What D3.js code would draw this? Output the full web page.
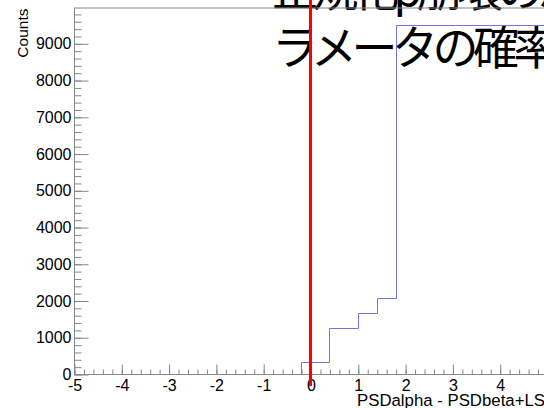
<!DOCTYPE html>
<html>
<head>
<meta charset="utf-8">
<script src="https://cdn.jsdelivr.net/npm/d3@7"></script>
<style>
  html, body { margin: 0; padding: 0; background: #fff; overflow: hidden; }
  svg { display: block; }
  .tick text { font-family: "Liberation Sans", Arial, sans-serif; }
</style>
</head>
<body>
<svg id="chart" width="544" height="408"></svg>
<script>
// Histogram: variable-width bin edges and the counts in each bin
const binEdges = [-0.2, 0.4, 1.0, 1.4, 1.8, 6.0];
const binCounts = [330, 1240, 1670, 2060, 9500];

// Axis ranges and tick values
const xDomain = [-5, 7.5];
const yDomain = [0, 9975];
const xMajorTicks = d3.range(-5, 7.01, 1);
const xMinorTicks = d3.range(-5, 7.51, 0.2).map(v => +v.toFixed(1));
const yMajorTicks = d3.range(0, 9001, 1000);
const yMinorTicks = d3.range(0, 9975, 200);

// Cut position drawn as a vertical marker
const cutValue = 0;

const titleLines = ["正規化p崩壊のパ", "ラメータの確率分布"];
const xTitle = "PSDalpha - PSDbeta+LSdiff";
const yTitle = "Counts";

const svg = d3.select("#chart");
const frame = { left: 74, top: 7.5, bottom: 374 };
const pxPerUnit = 47.3;

const x = d3.scaleLinear()
  .domain(xDomain)
  .range([frame.left, frame.left + (xDomain[1] - xDomain[0]) * pxPerUnit]);
const y = d3.scaleLinear().domain(yDomain).range([frame.bottom, frame.top]);

svg.append("rect").attr("width", 544).attr("height", 408).attr("fill", "#fff");

// Title (two lines, left-aligned)
const title = svg.append("text")
  .attr("font-family", '"Noto Sans CJK JP", sans-serif')
  .attr("font-size", 46)
  .attr("letter-spacing", -5.5)
  .attr("fill", "#000");
title.append("tspan").attr("x", 272).attr("y", 6).text(titleLines[0]);
title.append("tspan").attr("x", 272).attr("y", 64).text(titleLines[1]);

const axisColor = "#888";

// Frame
svg.append("rect")
  .attr("x", x(xDomain[0]) + 0.5)
  .attr("y", y(yDomain[1]) + 0.5)
  .attr("width", x(xDomain[1]) - x(xDomain[0]))
  .attr("height", y(yDomain[0]) - y(yDomain[1]))
  .attr("fill", "none")
  .attr("stroke", axisColor);

function styleAxis(g) {
  g.select(".domain").remove();
  g.selectAll(".tick line").attr("stroke", axisColor);
  g.selectAll(".tick text")
    .attr("fill", "#000")
    .attr("font-size", 16);
}

const intLabel = d => String(d);

// X axis: minor and major ticks pointing into the frame
svg.append("g")
  .attr("transform", `translate(0.5,${frame.bottom + 0.5})`)
  .call(d3.axisBottom(x).tickValues(xMinorTicks).tickSize(-5).tickFormat(""))
  .call(styleAxis);
svg.append("g")
  .attr("transform", `translate(0.5,${frame.bottom + 0.5})`)
  .call(d3.axisBottom(x).tickValues(xMajorTicks).tickSize(-10).tickPadding(5.5)
    .tickFormat(intLabel))
  .call(styleAxis);

// Y axis
svg.append("g")
  .attr("transform", `translate(${frame.left + 0.5},0.5)`)
  .call(d3.axisLeft(y).tickValues(yMinorTicks).tickSize(-7).tickFormat(""))
  .call(styleAxis);
svg.append("g")
  .attr("transform", `translate(${frame.left + 0.5},0.5)`)
  .call(d3.axisLeft(y).tickValues(yMajorTicks).tickSize(-14).tickPadding(3)
    .tickFormat(intLabel))
  .call(styleAxis);

// Axis titles
svg.append("text")
  .attr("x", 357)
  .attr("y", 406)
  .attr("font-family", '"Liberation Sans", Arial, sans-serif')
  .attr("font-size", 16.8)
  .attr("fill", "#000")
  .text(xTitle);

svg.append("text")
  .attr("transform", `translate(27.5,${frame.top + 1}) rotate(-90)`)
  .attr("text-anchor", "end")
  .attr("font-family", '"Liberation Sans", Arial, sans-serif')
  .attr("font-size", 15.5)
  .attr("fill", "#000")
  .text(yTitle);

// Histogram outline: rise at the first edge, one level per bin, drop at the last edge
const lastEdge = binEdges[binEdges.length - 1];
const pathPts = [[binEdges[0], 0]]
  .concat(binCounts.map((c, i) => [binEdges[i], c]))
  .concat([[lastEdge, 0]]);

svg.append("path")
  .datum(pathPts)
  .attr("fill", "none")
  .attr("stroke", "#7474dc")
  .attr("stroke-width", 1)
  .attr("d", d3.line()
    .x(d => Math.round(x(d[0])) + 0.5)
    .y(d => Math.round(y(d[1])) + 0.5)
    .curve(d3.curveStepAfter));

// Cut marker
svg.append("line")
  .attr("x1", x(cutValue)).attr("x2", x(cutValue))
  .attr("y1", y(-330)).attr("y2", y(10300))
  .attr("stroke", "#ff0000")
  .attr("stroke-width", 3);
</script>
</body>
</html>
